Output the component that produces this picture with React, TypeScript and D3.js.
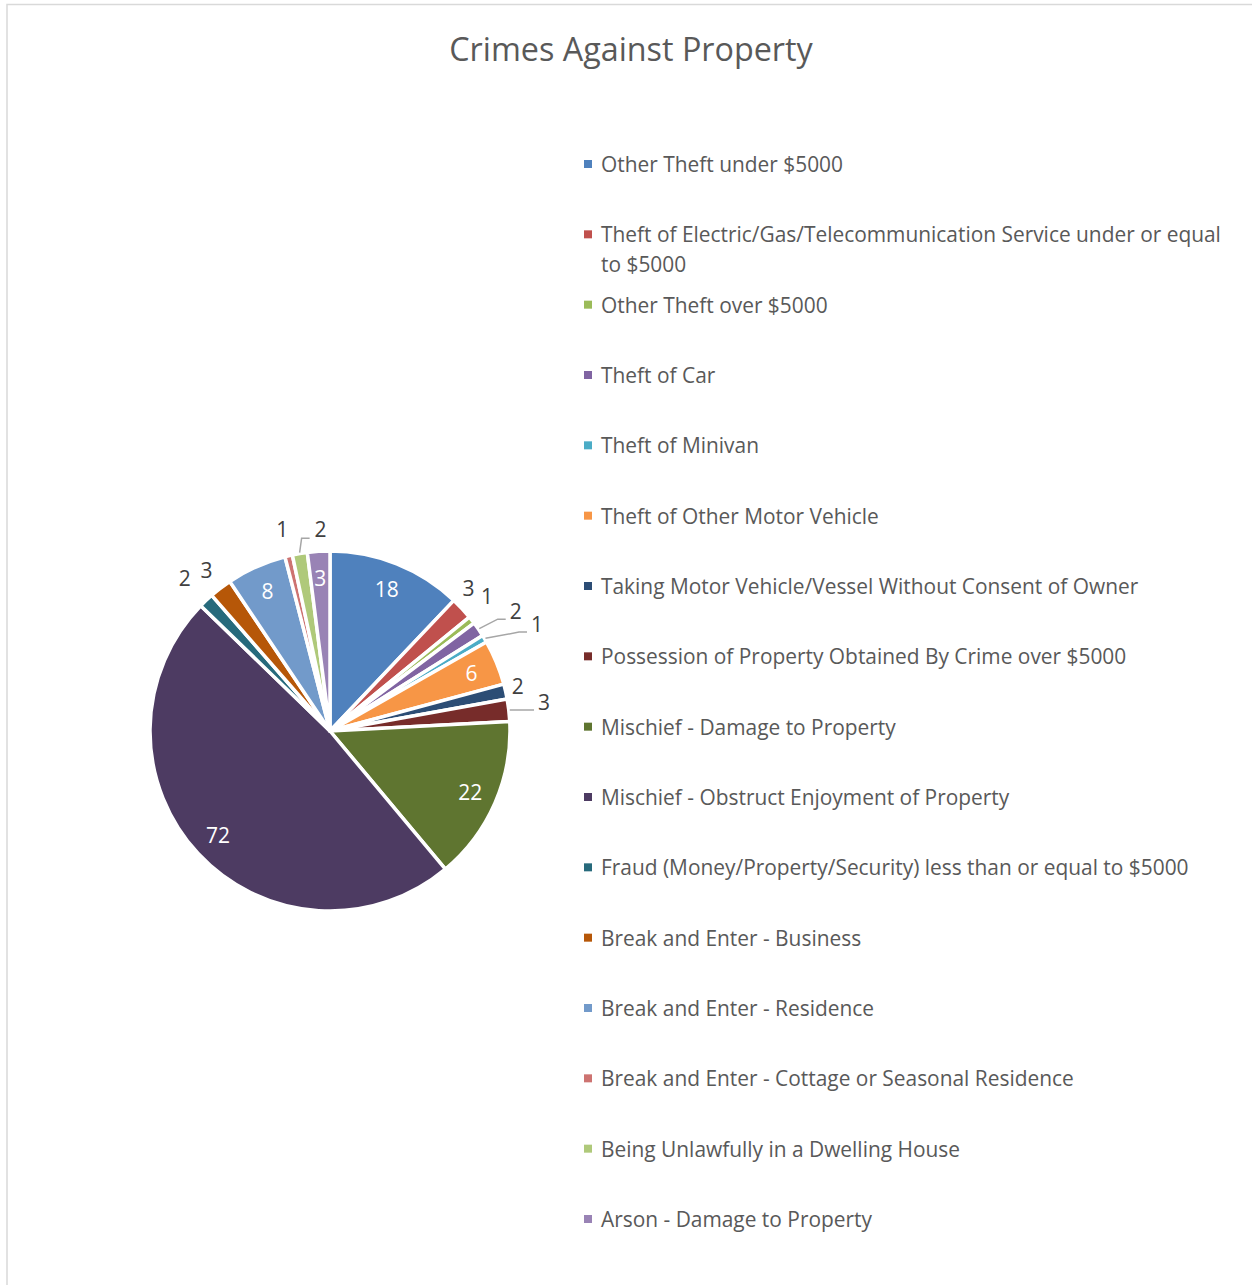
import React, { useMemo } from 'react';
import * as d3 from 'd3';

const chartTitle = 'Crimes Against Property';

const categories = [
  'Other Theft under $5000',
  'Theft of Electric/Gas/Telecommunication Service under or equal to $5000',
  'Other Theft over $5000',
  'Theft of Car',
  'Theft of Minivan',
  'Theft of Other Motor Vehicle',
  'Taking Motor Vehicle/Vessel Without Consent of Owner',
  'Possession of Property Obtained By Crime over $5000',
  'Mischief - Damage to Property',
  'Mischief - Obstruct Enjoyment of Property',
  'Fraud (Money/Property/Security) less than or equal to $5000',
  'Break and Enter - Business',
  'Break and Enter - Residence',
  'Break and Enter - Cottage or Seasonal Residence',
  'Being Unlawfully in a Dwelling House',
  'Arson - Damage to Property',
];

const values = [18, 3, 1, 2, 1, 6, 2, 3, 22, 72, 2, 3, 8, 1, 2, 3];

const colors = [
  '#4F81BD', '#C0504D', '#9BBB59', '#8064A2', '#4BACC6', '#F79646',
  '#2C4D75', '#772C2A', '#5F7530', '#4D3B62', '#276A7C', '#B65708',
  '#729ACA', '#CD7371', '#AFC97A', '#9983B5',
];

// label layout (not data): inside flag, radial offset beyond radius, angle nudge (deg), leader line
const labelInside = [true, false, false, false, false, true, false, false, true, true, false, false, true, false, false, true];
const labelExtra = [0, 19, 27, 41, 53, 0, 13, 36, 0, 0, 31, 23, 0, 28, 22, 0];
const labelNudge = [0, -3, -2.6, 1.6, 3.5, 0, -0.8, -1.1, 0, 0, 0, 0, 0, 0, 7, 0];
const labelLeader = [false, false, false, true, true, false, false, true, false, false, false, false, false, false, true, false];

const W = 1252;
const H = 1285;
const FONT = '"Open Sans", "DejaVu Sans", sans-serif';
const TEXT = '#595959';

function wrapText(text: string, maxW: number, font: string): string[] {
  const ctx = document.createElement('canvas').getContext('2d');
  if (!ctx) return [text];
  ctx.font = font;
  const words = text.split(' ');
  const lines: string[] = [];
  let cur = '';
  for (const w of words) {
    const t = cur ? cur + ' ' + w : w;
    if (ctx.measureText(t).width > maxW && cur) {
      lines.push(cur);
      cur = w;
    } else cur = t;
  }
  if (cur) lines.push(cur);
  return lines;
}

export default function App() {
  const cx = 330, cy = 731, R = 180;
  const pie = d3.pie<number>().sort(null).value((d) => d).startAngle(0).endAngle(2 * Math.PI);
  const arcs = pie(values);
  const arc = d3.arc<d3.PieArcDatum<number>>().innerRadius(0).outerRadius(R);
  const pt = (a: number, r: number) => [Math.sin(a) * r, -Math.cos(a) * r];

  const legendY = d3.scaleLinear().domain([0, categories.length - 1]).range([164, 1219]);
  const legendFontSize = 20.9;
  const legendLines = useMemo(
    () => categories.map((c) => wrapText(c, 632, `${legendFontSize}px ${FONT}`)),
    []
  );

  return (
    <svg width={W} height={H} style={{ position: 'absolute', left: 0, top: 0, background: '#fff' }} fontFamily={FONT}>
      <rect x={0} y={0} width={W} height={H} fill="#fff" />
      <rect x={7} y={4.5} width={W + 20} height={H + 20} fill="none" stroke="#D9D9D9" strokeWidth={1.5} />
      <text x={631} y={48} textAnchor="middle" dominantBaseline="central" fontSize={32.3} fill={TEXT}>
        {chartTitle}
      </text>
      <g transform={`translate(${cx},${cy})`}>
        {arcs.map((a, i) => (
          <path key={i} d={arc(a) || ''} fill={colors[i]} stroke="#fff" strokeWidth={3.5} strokeLinejoin="round" />
        ))}
        {arcs.map((a, i) => {
          const mid = (a.startAngle + a.endAngle) / 2;
          if (labelInside[i]) {
            const [x, y] = pt(mid, R * 0.85);
            return (
              <text key={'l' + i} x={x} y={y} textAnchor="middle" dominantBaseline="central" fontSize={21} fill="#fff">
                {values[i]}
              </text>
            );
          }
          const ang = mid + (labelNudge[i] * Math.PI) / 180;
          const [x, y] = pt(ang, R + labelExtra[i]);
          let leader = null;
          if (labelLeader[i]) {
            const [sx, sy] = pt(mid, R + 1);
            const right = Math.sin(mid) > 0.3;
            let ex: number, ey: number, bx: number, by: number;
            if (right) {
              ex = x - 10; ey = y + 8; bx = ex - 8; by = ey;
            } else {
              ex = x - 11; ey = y + 9; bx = sx + 2; by = ey;
            }
            leader = (
              <polyline points={`${sx},${sy} ${bx},${by} ${ex},${ey}`} fill="none" stroke="#A6A6A6" strokeWidth={1.5} />
            );
          }
          return (
            <g key={'l' + i}>
              {leader}
              <text x={x} y={y} textAnchor="middle" dominantBaseline="central" fontSize={21} fill="#404040">
                {values[i]}
              </text>
            </g>
          );
        })}
      </g>
      <g>
        {categories.map((c, i) => {
          const y = legendY(i);
          return (
            <g key={'g' + i}>
              <rect x={584} y={y - 4} width={8} height={8} fill={colors[i]} />
              {legendLines[i].map((ln, j) => (
                <text key={j} x={601} y={y + j * 30} dominantBaseline="central" fontSize={legendFontSize} fill={TEXT}>
                  {ln}
                </text>
              ))}
            </g>
          );
        })}
      </g>
    </svg>
  );
}
